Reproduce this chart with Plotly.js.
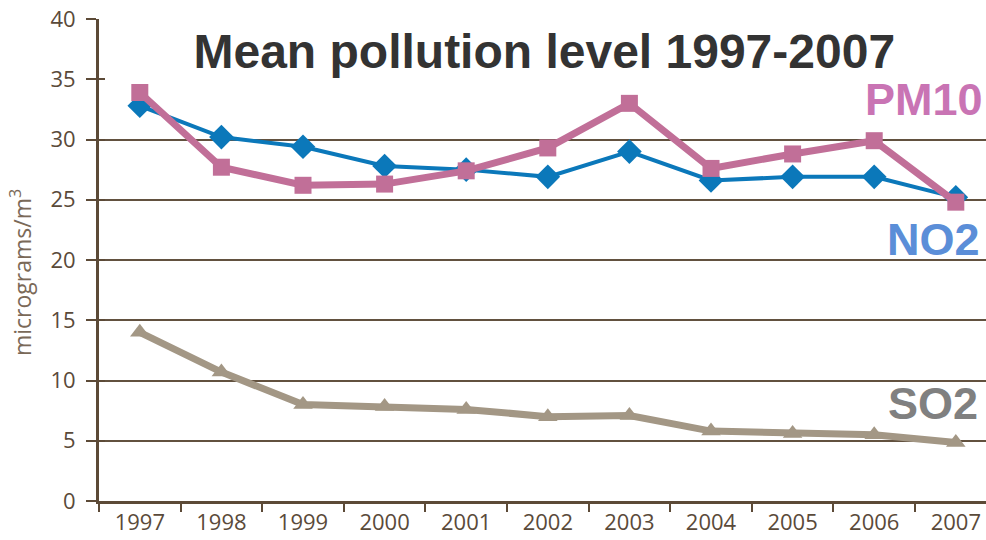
<!DOCTYPE html>
<html>
<head>
<meta charset="utf-8">
<script src="https://cdn.plot.ly/plotly-3.0.1.min.js"></script>
<style>
  html, body { margin: 0; padding: 0; background: #ffffff; }
  #chart { width: 986px; height: 540px; }
</style>
</head>
<body>
<div id="chart"></div>
<script>
// Annual mean concentrations, micrograms per cubic metre
const years = ['1997', '1998', '1999', '2000', '2001', '2002', '2003', '2004', '2005', '2006', '2007'];
const no2  = [32.8, 30.2, 29.4, 27.8, 27.5, 26.9, 29.0, 26.6, 26.9, 26.9, 25.2];
const pm10 = [33.9, 27.7, 26.2, 26.3, 27.4, 29.3, 33.0, 27.6, 28.8, 29.9, 24.8];
const so2  = [14.0, 10.7, 8.0, 7.85, 7.6, 7.0, 7.1, 5.8, 5.6, 5.5, 4.85];

const yTicks = [0, 5, 10, 15, 20, 25, 30, 35, 40];
const gridTicks = [5, 10, 15, 20, 25, 30];

const axisColor = '#5c4a37';
const tickFont = { family: 'Open Sans', size: 22, color: '#5a4a3a' };

const traces = [
  {
    x: years, y: so2, name: 'SO2', type: 'scatter', mode: 'lines+markers',
    line: { color: '#a39785', width: 7 },
    marker: { symbol: 'triangle-up', size: 17, color: '#a39785' }
  },
  {
    x: years, y: no2, name: 'NO2', type: 'scatter', mode: 'lines+markers',
    line: { color: '#0b78ba', width: 4 },
    marker: { symbol: 'diamond', size: 19, color: '#0b78ba' }
  },
  {
    x: years, y: pm10, name: 'PM10', type: 'scatter', mode: 'lines+markers',
    line: { color: '#c16f98', width: 7 },
    marker: { symbol: 'square', size: 17, color: '#c16f98' }
  }
];

const layout = {
  width: 986, height: 540,
  margin: { l: 99, r: 0, t: 19, b: 39, pad: 0 },
  paper_bgcolor: '#ffffff', plot_bgcolor: 'rgba(0,0,0,0)',
  showlegend: false,
  title: {
    text: '<b>Mean pollution level 1997-2007</b>',
    font: { family: 'Liberation Sans', size: 48, color: '#333333' },
    xref: 'paper', x: 0.502, xanchor: 'center',
    yref: 'container', y: 0.905, yanchor: 'middle'
  },
  xaxis: {
    type: 'category', range: [-0.5, 10.37],
    tickson: 'boundaries', ticks: 'outside', ticklen: 8, tickwidth: 2, tickcolor: axisColor,
    showline: true, linecolor: axisColor, linewidth: 3,
    showgrid: false, zeroline: false,
    tickfont: tickFont, fixedrange: true
  },
  yaxis: {
    range: [0, 40], tickvals: yTicks, ticktext: yTicks.map(String),
    ticks: 'outside', ticklen: 10, tickwidth: 2, tickcolor: axisColor,
    showline: true, linecolor: axisColor, linewidth: 3,
    showgrid: false, zeroline: false,
    tickfont: tickFont, ticklabelstandoff: 6
  },
  // short inner tick stubs on the value axis
  yaxis2: {
    overlaying: 'y', range: [0, 40], tickvals: yTicks,
    ticks: 'inside', ticklen: 6, tickwidth: 2, tickcolor: axisColor,
    showticklabels: false, showgrid: false, showline: false, zeroline: false
  },
  // horizontal rules only from 5 to 30
  yaxis3: {
    overlaying: 'y', range: [0, 40], tickvals: gridTicks,
    ticks: '', showticklabels: false, showline: false, zeroline: false,
    showgrid: true, gridcolor: '#62513f', gridwidth: 2, layer: 'below traces'
  },
  annotations: [
    {
      text: 'micrograms/m<sup>3</sup>', textangle: -90,
      xref: 'paper', x: -0.088, xanchor: 'center',
      yref: 'y', y: 19, yanchor: 'middle', showarrow: false,
      font: { family: 'Open Sans', size: 23, color: '#7a6958' }
    },
    {
      text: '<b>PM10</b>', xref: 'paper', x: 0.999, xanchor: 'right',
      yref: 'y', y: 33.3, yanchor: 'middle', showarrow: false,
      font: { family: 'Liberation Sans', size: 45, color: '#c974b4' }
    },
    {
      text: '<b>NO2</b>', xref: 'paper', x: 0.995, xanchor: 'right',
      yref: 'y', y: 21.7, yanchor: 'middle', showarrow: false,
      font: { family: 'Liberation Sans', size: 45, color: '#5b8ed8' }
    },
    {
      text: '<b>SO2</b>', xref: 'paper', x: 0.993, xanchor: 'right',
      yref: 'y', y: 8.1, yanchor: 'middle', showarrow: false,
      font: { family: 'Liberation Sans', size: 45, color: '#808080' }
    }
  ]
};

// placeholder traces bind the helper axes so they are drawn
traces.push({ x: [years[0]], y: [null], yaxis: 'y2', type: 'scatter', hoverinfo: 'skip', showlegend: false });
traces.push({ x: [years[0]], y: [null], yaxis: 'y3', type: 'scatter', hoverinfo: 'skip', showlegend: false });

Plotly.newPlot('chart', traces, layout, { displayModeBar: false, staticPlot: true });
</script>
</body>
</html>
